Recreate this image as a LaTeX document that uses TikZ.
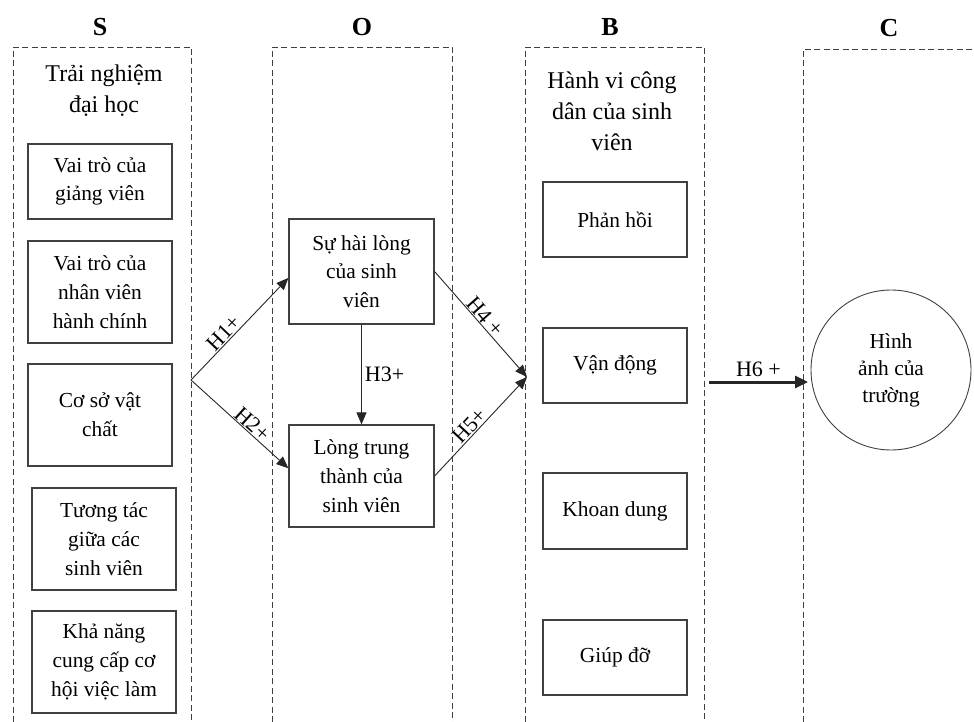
\documentclass[tikz,border=0pt]{standalone}
\usepackage{fontspec}
\setmainfont{Liberation Serif}
\usetikzlibrary{arrows.meta}

\begin{document}
\begin{tikzpicture}[x=1pt,y=-1pt,
		col/.style={draw=black!75,line width=0.9pt,dash pattern=on 6pt off 3.5pt},
		head/.style={font=\fontsize{26}{30}\selectfont\bfseries},
		ttl/.style={align=center,font=\fontsize{24}{31}\selectfont},
		box/.style={draw=black!75,line width=1.2pt,align=center,minimum width=144pt,inner sep=0pt,font=\fontsize{21.4}{28.7}\selectfont},
		hyp/.style={font=\fontsize{22}{26}\selectfont,inner sep=1pt},
		link/.style={draw=black!85,line width=0.9pt,-{Triangle[length=12pt,width=10pt]}}]
	\useasboundingbox (0,0) rectangle (974,722);
	% column frames, open at the bottom
	\foreach \a/\b in {13/191,272/452,525/704}
	\draw[col] (\a,722) |- (\b,47) -- (\b,722);
	\draw[col] (803,722) |- (974,49);
	\node[head] (hS) at (100,27) {S};
	\node[head] (hO) at (362,27) {O};
	\node[head] (hB) at (610,27) {B};
	\node[head] (hC) at (889,28) {C};
	% S
	\node[ttl] (tS) at (104,91) {Trải nghiệm\\đại học};
	\node[box,minimum height=75pt] (s1) at (100,181.5) {Vai trò của\\giảng viên};
	\node[box,minimum height=102pt] (s2) at (100,292) {Vai trò của\\nhân viên\\hành chính};
	\node[box,minimum height=102pt] (s3) at (100,415) {Cơ sở vật\\chất};
	\node[box,minimum height=102pt] (s4) at (104,539) {Tương tác\\giữa các\\sinh viên};
	\node[box,minimum height=102pt] (s5) at (104,662) {Khả năng\\cung cấp cơ\\hội việc làm};
	% O
	\node[box,minimum width=145pt,minimum height=105pt] (sat) at (361.5,271.5) {Sự hài lòng\\của sinh\\viên};
	\node[box,minimum width=145pt,minimum height=102pt] (loyal) at (361.5,476) {Lòng trung\\thành của\\sinh viên};
	% B
	\node[ttl] (tB) at (612,111) {Hành vi công\\dân của sinh\\viên};
	\node[box,minimum height=75pt] (b1) at (615,219.5) {Phản hồi};
	\node[box,minimum height=75pt] (b2) at (615,365.5) {Vận động};
	\node[box,minimum height=76pt] (b3) at (615,511) {Khoan dung};
	\node[box,minimum height=75pt] (b4) at (615,657.5) {Giúp đỡ};
	% C
	\node[draw=black!75,line width=0.9pt,circle,minimum size=160pt,align=center,font=\fontsize{21.4}{27}\selectfont] (img) at (891,370) {Hình\\ảnh của\\trường};
	% links
	\coordinate (fork) at (191,380);
	\coordinate (meet) at (527,377);
	\coordinate (h6a) at (709,382);
	\coordinate (h6b) at (808,382);
	\draw[link] (fork) -- (sat.185) node[hyp,pos=0.4,sloped,above] {H1+};
	\draw[link] (fork) -- (loyal.174) node[hyp,pos=0.57,sloped,above] {H2+};
	\draw[link] (sat) -- (loyal) node[hyp,midway,right=2pt] {H3+};
	\draw[link] (sat.east) -- (meet) node[hyp,pos=0.48,sloped,above] {H4 +};
	\draw[link] (loyal.east) -- (meet) node[hyp,pos=0.45,sloped,above] {H5+};
	\draw[link,line width=3pt,-{Triangle[length=13pt,width=12pt]}] (h6a) -- (h6b) node[hyp,midway,above=3pt] {H6 +};
\end{tikzpicture}
\end{document}
